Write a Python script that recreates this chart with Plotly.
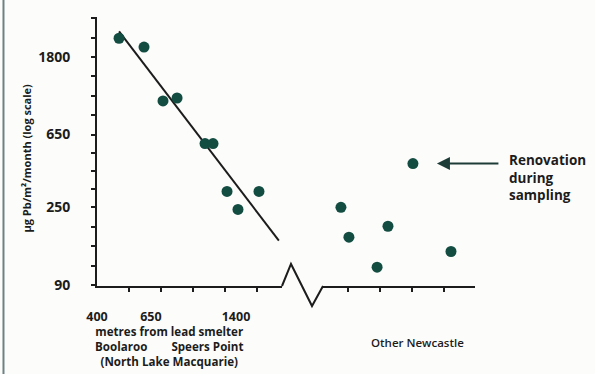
import numpy as np
import plotly.graph_objects as go

# Lead deposition near the smelter (distance in metres) and at other Newcastle sites
near_distance_m = [488, 611, 725, 823, 1059, 1138, 1291, 1425, 1722]
near_lead = [2300, 2050, 1010, 1050, 577, 577, 308, 243, 308]

other_site_pos = [0.78, 1.03, 1.91, 2.25, 3.03, 4.22]
other_lead = [250, 169, 114, 195, 444, 140]
renovation_index = 4

y_tick_vals = [90, 250, 650, 1800]
x_tick_vals = [400, 650, 1400]
other_tick_vals = [1, 2, 3, 4]
fit_span_m = [488, 2060]

INK = "#1c1c1c"
DOT = "#134d42"
FONT = "Open Sans"

# log-log regression line over the smelter transect
slope, intercept = np.polyfit(np.log10(near_distance_m), np.log10(near_lead), 1)
fit_x = np.array(fit_span_m, dtype=float)
fit_y = 10 ** (intercept + slope * np.log10(fit_x))

# minor ticks: four equal log steps between labelled values, two more above the top label
y_minor = []
for a, b in zip(y_tick_vals[:-1], y_tick_vals[1:]):
    y_minor.extend(np.geomspace(a, b, 5)[1:-1].tolist())
step = (y_tick_vals[-1] / y_tick_vals[-2]) ** 0.25
y_minor += [y_tick_vals[-1] * step, y_tick_vals[-1] * step ** 2]
x_minor = [10 ** (np.log10(x_tick_vals[0]) + k / 8) for k in range(1, 6)]

fig = go.Figure()
fig.add_trace(go.Scatter(
    x=fit_x, y=fit_y, mode="lines", xaxis="x", yaxis="y",
    line=dict(color=INK, width=2), hoverinfo="skip", showlegend=False))
fig.add_trace(go.Scatter(
    x=near_distance_m, y=near_lead, mode="markers", xaxis="x", yaxis="y",
    marker=dict(color=DOT, size=11), showlegend=False))
fig.add_trace(go.Scatter(
    x=other_site_pos, y=other_lead, mode="markers", xaxis="x2", yaxis="y",
    marker=dict(color=DOT, size=11), showlegend=False))

axis_font = dict(family=FONT, size=14, color=INK, weight=700)

fig.update_layout(
    width=595, height=374,
    margin=dict(l=97, r=120, t=17, b=88),
    paper_bgcolor="#fcfcfb", plot_bgcolor="#fcfcfb",
    showlegend=False,
    xaxis=dict(
        type="log", domain=[0, 0.4894],
        range=[np.log10(400), np.log10(400) + 185 / 255.5],
        anchor="y", showgrid=False, zeroline=False,
        showline=True, linecolor=INK, linewidth=2,
        tickmode="array", tickvals=x_tick_vals, ticktext=[str(v) for v in x_tick_vals],
        ticks="", tickfont=dict(family=FONT, size=12.5, color=INK, weight=700),
        ticklabelstandoff=18,
        minor=dict(tickmode="array", tickvals=x_minor, ticks="outside",
                   ticklen=4, tickwidth=1.5, tickcolor=INK, showgrid=False),
    ),
    xaxis2=dict(
        domain=[0.5979, 1], range=[0.22, 4.97], anchor="y",
        showgrid=False, zeroline=False,
        showline=True, linecolor=INK, linewidth=2,
        tickmode="array", tickvals=other_tick_vals, ticks="outside",
        ticklen=4, tickwidth=1.5, tickcolor=INK, showticklabels=False,
    ),
    yaxis=dict(
        type="log", range=[np.log10(89), np.log10(3040)],
        showgrid=False, zeroline=False,
        showline=True, linecolor=INK, linewidth=2,
        tickmode="array", tickvals=y_tick_vals, ticktext=[str(v) for v in y_tick_vals],
        ticks="outside", ticklen=4, tickwidth=1.5, tickcolor=INK,
        tickfont=axis_font, ticklabelstandoff=18,
        minor=dict(tickmode="array", tickvals=y_minor, ticks="outside",
                   ticklen=4, tickwidth=1.5, tickcolor=INK, showgrid=False),
    ),
)

# axis break between the two groups, and the page edge rule
fig.add_shape(type="path", xref="paper", yref="paper",
              path="M 0.4894 0 L 0.5132 0.0818 L 0.5688 -0.0743 L 0.5979 0",
              line=dict(color=INK, width=2))
fig.add_shape(type="line", xref="paper", yref="paper",
              x0=-0.2474, x1=-0.2474, y0=-0.33, y1=1.07,
              line=dict(color="#6f8282", width=2))

fig.add_annotation(text="µg Pb/m²/month (log scale)", textangle=-90,
                   xref="paper", yref="paper", x=-0.2116, y=0.476,
                   showarrow=False, font=dict(family=FONT, size=11, color=INK, weight=700))

# distance caption under the smelter transect
gap = "&nbsp;" * 8
fig.add_annotation(
    text=f"metres from lead smelter<br>Boolaroo{gap}Speers Point<br>(North Lake Macquarie)",
    xref="paper", yref="paper", x=0.1905, y=-0.134,
    xanchor="center", yanchor="top", align="center",
    showarrow=False, font=dict(family=FONT, size=11.6, color=INK, weight=700))
fig.add_annotation(text="Other Newcastle", xref="paper", yref="paper",
                   x=0.8466, y=-0.2082, xanchor="center", yanchor="middle",
                   showarrow=False, font=dict(family=FONT, size=11.5, color=INK, weight=600))

# arrow pointing at the site renovated during sampling
fig.add_annotation(x=other_site_pos[renovation_index], y=np.log10(other_lead[renovation_index]),
                   xref="x2", yref="y", text="", showarrow=True,
                   ax=87, ay=0, standoff=24, arrowhead=2, arrowsize=1.3,
                   arrowwidth=2, arrowcolor="#1d3b37")
fig.add_annotation(text="Renovation<br>during<br>sampling", xref="paper", yref="paper",
                   x=1.0847, y=0.405, xanchor="left", yanchor="middle", align="left",
                   showarrow=False, font=dict(family=FONT, size=13.5, color=INK, weight=700))

fig.write_html("out.html")
